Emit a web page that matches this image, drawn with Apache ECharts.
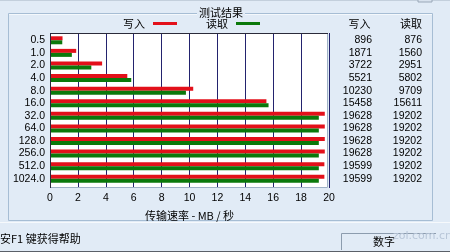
<!DOCTYPE html>
<html><head><meta charset="utf-8">
<script src="https://cdn.jsdelivr.net/npm/echarts@6/dist/echarts.min.js"></script>
<style>html,body{margin:0;padding:0;background:#e1ebf6;}#c{width:450px;height:252px;}</style>
</head><body><div id="c"></div>
<script>
var categories = ['0.5','1.0','2.0','4.0','8.0','16.0','32.0','64.0','128.0','256.0','512.0','1024.0'];
var writeKB = [896,1871,3722,5521,10230,15458,19628,19628,19628,19628,19599,19599];
var readKB  = [876,1560,2951,5802,9709,15611,19202,19202,19202,19202,19202,19202];
var xTicks = {min:0, max:20, interval:2};
var seriesNames = ['写入','读取'];
var axisName = '传输速率 - MB / 秒';
var titleText = '测试结果';
var statusText = '安F1 键获得帮助';
var statusPanel = '数字';

var writeMB = writeKB.map(function(v){return v/1000;});
var readMB = readKB.map(function(v){return v/1000;});
var cjk = '"Noto Sans CJK SC", sans-serif';
var num = '"Liberation Sans", Arial, sans-serif';
var bg = '#e1ebf6';

var chart = echarts.init(document.getElementById('c'), null, {renderer:'canvas'});
chart.setOption({
  backgroundColor: bg,
  animation: false,
  title: {text: titleText, left: 197, top: 6, padding: [0,2],
    backgroundColor: bg,
    textStyle: {fontFamily: cjk, fontSize: 11, fontWeight: 'normal', color: '#000', lineHeight: 13}},
  legend: {data: seriesNames, left: 123, top: 18, padding: 0, align: 'right', icon: 'rect',
    itemWidth: 24, itemHeight: 3, itemGap: 29,
    textStyle: {fontFamily: cjk, fontSize: 11, color: '#000', padding: [0,3,0,0]}},
  grid: [
    {left: 50, top: 33, width: 279, height: 155, show: false},
    {left: 50, top: 34, width: 280, height: 151, show: false}
  ],
  xAxis: [
    {gridIndex: 0, type: 'value', min: xTicks.min, max: xTicks.max, interval: xTicks.interval,
     axisLine: {show: false}, axisTick: {show: false},
     splitLine: {show: true, lineStyle: {color: '#23236e', width: 1}},
     axisLabel: {margin: 5, color: '#000', fontFamily: num, fontSize: 10.5},
     name: axisName, nameLocation: 'middle', nameGap: 22,
     nameTextStyle: {fontFamily: cjk, fontSize: 11, color: '#000'}},
    {gridIndex: 1, type: 'value', min: xTicks.min, max: xTicks.max, interval: xTicks.interval,
     show: false}
  ],
  yAxis: [
    {gridIndex: 0, type: 'value', show: false, min: 0, max: 1},
    {gridIndex: 1, type: 'category', data: categories, inverse: true,
     axisLine: {show: false}, axisTick: {show: false}, splitLine: {show: false},
     axisLabel: {interval: 0, margin: 5, color: '#000', fontFamily: num, fontSize: 10.5}},
    {gridIndex: 1, type: 'category', data: writeKB.map(String), inverse: true,
     position: 'right', offset: 42,
     axisLine: {show: false}, axisTick: {show: false}, splitLine: {show: false},
     axisLabel: {interval: 0, margin: 0, align: 'right', color: '#000', fontFamily: num, fontSize: 10.5}},
    {gridIndex: 1, type: 'category', data: readKB.map(String), inverse: true,
     position: 'right', offset: 92,
     axisLine: {show: false}, axisTick: {show: false}, splitLine: {show: false},
     axisLabel: {interval: 0, margin: 0, align: 'right', color: '#000', fontFamily: num, fontSize: 10.5}}
  ],
  series: [
    {name: seriesNames[0], type: 'bar', xAxisIndex: 1, yAxisIndex: 1, data: writeMB,
     barWidth: 4, barGap: '0%', itemStyle: {color: '#e3101a'}, z: 5},
    {name: seriesNames[1], type: 'bar', xAxisIndex: 1, yAxisIndex: 1, data: readMB,
     barWidth: 4, barGap: '0%', itemStyle: {color: '#0b790b'}, z: 5}
  ],
  graphic: [
    {type: 'line', shape: {x1: 0, y1: 0.5, x2: 450, y2: 0.5}, style: {stroke: '#c3cfdc', lineWidth: 1}, z: -1},
    {type: 'rect', shape: {x: 418, y: -2, width: 14, height: 4}, style: {fill: '#d8e2ee', stroke: '#9aa8b8', lineWidth: 1}, z: -1},
    {type: 'rect', shape: {x: 8.5, y: 13.5, width: 424, height: 207}, style: {fill: 'none', stroke: '#a6bdd4', lineWidth: 1}, z: -1},
    {type: 'line', shape: {x1: 9, y1: 14.5, x2: 432, y2: 14.5}, style: {stroke: '#f4f8fc', lineWidth: 1}, z: -1},
    {type: 'rect', shape: {x: 50, y: 33, width: 278, height: 155}, style: {fill: '#ffffff'}, z: -1},
    {type: 'polyline', shape: {points: [[50.5, 188], [50.5, 33.5], [328, 33.5]]}, style: {stroke: '#2a2a3a', lineWidth: 1, fill: 'none'}, z: 10},
    {type: 'polyline', shape: {points: [[51, 187.5], [327.5, 187.5], [327.5, 34]]}, style: {stroke: '#9fb2c6', lineWidth: 1, fill: 'none'}, z: 10},
    {type: 'text', x: 359.5, y: 24, style: {text: seriesNames[0], textAlign: 'center', textVerticalAlign: 'middle', font: '11px "Noto Sans CJK SC"', fill: '#000'}},
    {type: 'text', x: 411, y: 24, style: {text: seriesNames[1], textAlign: 'center', textVerticalAlign: 'middle', font: '11px "Noto Sans CJK SC"', fill: '#000'}},
    {type: 'line', shape: {x1: 0, y1: 222.5, x2: 450, y2: 222.5}, style: {stroke: '#f6f9fc', lineWidth: 1}, z: -1},
    {type: 'text', x: 0, y: 239, style: {text: statusText, textVerticalAlign: 'middle', font: '11px "Noto Sans CJK SC"', fill: '#000'}},
    {type: 'polyline', shape: {points: [[341.5, 250], [341.5, 233.5], [436, 233.5]]}, style: {stroke: '#8c9cae', lineWidth: 1, fill: 'none'}},
    {type: 'text', x: 373, y: 242, style: {text: statusPanel, textVerticalAlign: 'middle', font: '11px "Noto Sans CJK SC"', fill: '#000'}},
    {type: 'text', x: 393, y: 236, style: {text: 'zol.com.cn', textVerticalAlign: 'middle', font: '11px "DejaVu Sans"', fill: '#b8c6d8'}},
    {type: 'line', shape: {x1: 0, y1: 251.5, x2: 450, y2: 251.5}, style: {stroke: '#5a6068', lineWidth: 1}}
  ]
});
</script></body></html>
